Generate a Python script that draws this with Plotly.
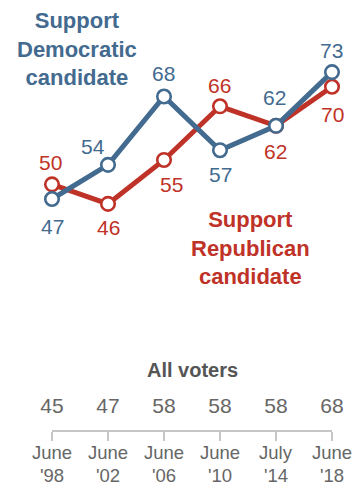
import plotly.graph_objects as go

# Survey waves
waves = ["June '98", "June '02", "June '06", "June '10", "July '14", "June '18"]
months = ["June", "June", "June", "June", "July", "June"]
years = ["'98", "'02", "'06", "'10", "'14", "'18"]

# Share who say they are more enthusiastic about voting (%)
dem_support = [47, 54, 68, 57, 62, 73]
rep_support = [50, 46, 55, 66, 62, 70]
all_voters = [45, 47, 58, 58, 58, 68]

BLUE = "#436a8f"
RED = "#bf3227"
GRAY = "#666666"
RULE = "#c6c6c6"
FONT = "Liberation Sans, Arial, sans-serif"

W, H = 364, 490
x_idx = list(range(len(waves)))

# label offsets (px) for each value label: (dx, dy) with dy positive = up
dem_offsets = [(0, -27), (-15, 18), (-1, 23), (0, -24), (-2, 28), (-1, 22)]
rep_offsets = [(-2, 22), (0, -24), (7, -25), (-1, 21), (-1, -26), (0, -28)]

fig = go.Figure()

for vals, color in ((rep_support, RED), (dem_support, BLUE)):
    fig.add_trace(go.Scatter(
        x=x_idx, y=vals, mode="lines+markers",
        line=dict(color=color, width=5),
        marker=dict(size=13.5, color="white", line=dict(color=color, width=2.6)),
        hoverinfo="skip", showlegend=False, cliponaxis=False,
    ))

annotations = []
for vals, offs, color in ((dem_support, dem_offsets, BLUE), (rep_support, rep_offsets, RED)):
    for i, (v, (dx, dy)) in enumerate(zip(vals, offs)):
        annotations.append(dict(
            x=i, y=v, xref="x", yref="y", text=str(v), showarrow=False,
            xshift=dx, yshift=dy, xanchor="center", yanchor="middle",
            font=dict(family=FONT, size=21, color=color),
        ))

# series labels
annotations.append(dict(
    x=77 / W, y=1 - 49 / H, xref="paper", yref="paper",
    text="<b>Support<br>Democratic<br>candidate</b>", showarrow=False,
    align="center", xanchor="center", yanchor="middle",
    font=dict(family=FONT, size=22, color=BLUE),
))
annotations.append(dict(
    x=250 / W, y=1 - 248 / H, xref="paper", yref="paper",
    text="<b>Support<br>Republican<br>candidate</b>", showarrow=False,
    align="center", xanchor="center", yanchor="middle",
    font=dict(family=FONT, size=22, color=RED),
))

# all-voters row
annotations.append(dict(
    x=192 / W, y=1 - 370 / H, xref="paper", yref="paper",
    text="<b>All voters</b>", showarrow=False,
    xanchor="center", yanchor="middle",
    font=dict(family=FONT, size=20, color="#555555"),
))
fig.add_trace(go.Scatter(
    x=x_idx, y=[0.55] * len(all_voters), xaxis="x2", yaxis="y2",
    mode="text", text=[str(v) for v in all_voters], textposition="middle center",
    textfont=dict(family=FONT, size=21, color=GRAY),
    hoverinfo="skip", showlegend=False, cliponaxis=False,
))

# wave labels under the bracket
for i, (m, yr) in enumerate(zip(months, years)):
    annotations.append(dict(
        x=i, y=1 - 452 / H, xref="x2", yref="paper", text=m, showarrow=False,
        xanchor="center", yanchor="middle",
        font=dict(family=FONT, size=18.5, color=GRAY),
    ))
    annotations.append(dict(
        x=i, y=1 - 475 / H, xref="x2", yref="paper", text=yr, showarrow=False,
        xanchor="center", yanchor="middle",
        font=dict(family=FONT, size=18.5, color=GRAY),
    ))

# pixel-to-value mapping of the main panel
px_per_unit = 4.88
y_top = 47 + 199 / px_per_unit
y_bot = 47 - (H - 199) / px_per_unit
x_left = -52 / 56
x_right = (W - 52) / 56

fig.update_layout(
    width=W, height=H, margin=dict(l=0, r=0, t=0, b=0),
    paper_bgcolor="white", plot_bgcolor="rgba(0,0,0,0)",
    xaxis=dict(range=[x_left, x_right], domain=[0, 1], visible=False, fixedrange=True),
    yaxis=dict(range=[y_bot, y_top], domain=[0, 1], visible=False, fixedrange=True),
    xaxis2=dict(
        domain=[52 / W, 332 / W], range=[0, 5], anchor="y2",
        showline=True, linecolor=RULE, linewidth=1.5,
        ticks="outside", ticklen=9, tickcolor=RULE, tickwidth=1.5,
        tickvals=x_idx, showticklabels=False,
        showgrid=False, zeroline=False, fixedrange=True,
    ),
    yaxis2=dict(
        domain=[(H - 430) / H, (H - 390) / H], range=[0, 1], anchor="x2",
        visible=False, fixedrange=True,
    ),
    annotations=annotations,
    showlegend=False,
)

fig.write_html("out.html", config={"displayModeBar": False})
